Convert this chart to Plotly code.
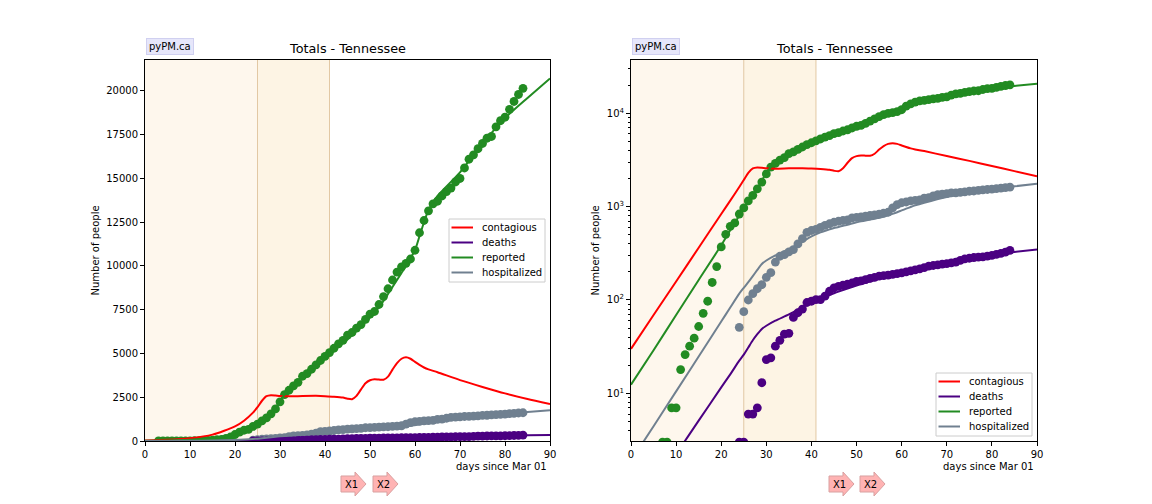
import plotly.graph_objects as go

# ---------------- data ----------------
rep_days = list(range(3, 85))
rep_vals = [1, 1, 1, 2, 3, 3, 7, 7, 18, 26, 32, 39, 52, 72, 97, 154, 228, 370, 505,
            615, 668, 833, 968, 1150, 1320, 1550, 1830, 2240, 2650, 2900, 3150, 3350,
            3700, 3850, 4100, 4350, 4600, 4830, 5050, 5300, 5550, 5750, 6050, 6200,
            6450, 6650, 6950, 7250, 7400, 7800, 8250, 8700, 9200, 9650, 9950, 10150,
            10400, 10900, 11900, 12600, 13150, 13550, 13700, 14000, 14250, 14450,
            14800, 15000, 15600, 16100, 16350, 16700, 17000, 17300, 17400, 17950,
            18300, 18500, 18950, 19400, 19800, 20150]

hosp_days = list(range(24, 85))
hosp_vals = [51, 75, 100, 117, 132, 146, 175, 196, 255, 294, 306, 327, 347, 398, 455,
             530, 555, 570, 600, 630, 655, 680, 697, 710, 720, 757, 765, 775, 790, 805,
             815, 830, 850, 870, 968, 1050, 1100, 1120, 1150, 1165, 1180, 1230, 1250,
             1300, 1345, 1360, 1380, 1400, 1405, 1420, 1440, 1460, 1470, 1490, 1510,
             1525, 1540, 1560, 1580, 1600, 1615]

death_days = list(range(24, 85))
death_vals = [3, 3, 6, 6, 7, 13, 23, 24, 32, 37, 43, 44, 65, 73, 80, 94, 97, 101, 101,
              110, 124, 135, 140, 144, 148, 152, 158, 160, 165, 170, 175, 180, 182, 185,
              188, 192, 195, 200, 205, 210, 215, 222, 230, 234, 238, 242, 245, 250, 255,
              265, 275, 280, 285, 288, 290, 295, 300, 308, 315, 325, 340]

model_days = [0, 5, 10, 15, 20, 22, 24, 25, 26, 27, 28, 29, 30, 32, 35, 38, 40, 42, 44,
              45, 46, 47, 48, 49, 50, 51, 52, 53, 54, 55, 56, 57, 58, 59, 60, 61, 62, 63,
              65, 70, 75, 80, 85, 90]
contagious = [30, 69, 158, 363, 834, 1160, 1620, 1930, 2300, 2560, 2620, 2600, 2570,
              2550, 2570, 2580, 2560, 2530, 2480, 2420, 2390, 2580, 2950, 3300, 3470,
              3530, 3510, 3500, 3680, 4080, 4450, 4700, 4780, 4700, 4520, 4350, 4200,
              4090, 3930, 3480, 3090, 2720, 2400, 2110]
deaths_m = [0.43, 0.98, 2.24, 5.1, 11.6, 16, 22.4, 26, 31, 37, 43, 49, 53, 60, 70, 84,
            93, 105, 113, 118, 123, 128, 133, 138, 143, 148, 153, 158, 164, 170, 175,
            180, 185, 190, 200, 205, 210, 215, 228, 255, 280, 305, 327, 347]
reported_m = [12.4, 29, 69, 164, 385, 560, 800, 950, 1120, 1320, 1560, 1900, 2300, 2950,
              3650, 4300, 4750, 5200, 5600, 5800, 6050, 6300, 6550, 6800, 7050, 7350,
              7650, 8000, 8400, 8800, 9200, 9600, 10000, 10450, 10900, 11700, 12500,
              13200, 14000, 15350, 17000, 18450, 19600, 20720]
hosp_m = [1.9, 4.45, 10.5, 24.8, 58.8, 83, 117, 135, 155, 180, 210, 243, 265, 300, 350,
          420, 480, 530, 570, 590, 605, 625, 640, 660, 680, 695, 710, 725, 740, 760, 780,
          805, 835, 870, 910, 950, 990, 1030, 1100, 1270, 1410, 1530, 1650, 1760]

series_names = ["contagious", "deaths", "reported", "hospitalized"]
x_ticks = [0, 10, 20, 30, 40, 50, 60, 70, 80, 90]
lin_ticks = [0, 2500, 5000, 7500, 10000, 12500, 15000, 17500, 20000]
log_ticks = [10, 100, 1000, 10000]
log_ticktext = ["10<sup>1</sup>", "10<sup>2</sup>", "10<sup>3</sup>", "10<sup>4</sup>"]
periods = [(0, 25), (25, 41)]

RED, PURPLE, GREEN, GRAY = "#ff0000", "#4b0082", "#228b22", "#708090"
COLS = [RED, PURPLE, GREEN, GRAY]
W, H = 1152, 504
FONT = "DejaVu Sans"

# plot area in pixels
PL, PR, PT, PB = 145, 1037, 60, 441
PW, PH = PR - PL, PB - PT


def px(x):
    return (x - PL) / PW


def py(y):
    return (PB - y) / PH


fig = go.Figure()


def add_panel(xa, ya):
    for days, vals, col in [(rep_days, rep_vals, GREEN), (hosp_days, hosp_vals, GRAY),
                            (death_days, death_vals, PURPLE)]:
        fig.add_trace(go.Scatter(x=days, y=vals, mode="markers", xaxis=xa, yaxis=ya,
                                 marker=dict(color=col, size=8.8), showlegend=False,
                                 hoverinfo="skip"))
    for vals, col, name in zip([contagious, deaths_m, reported_m, hosp_m], COLS, series_names):
        fig.add_trace(go.Scatter(x=model_days, y=vals, mode="lines", xaxis=xa, yaxis=ya,
                                 line=dict(color=col, width=2, shape="spline", smoothing=0.6),
                                 name=name, showlegend=False))


add_panel("x", "y")
add_panel("x2", "y2")

dom1 = [px(145), px(550)]
dom2 = [px(631), px(1037)]

axis_common = dict(showline=True, linecolor="black", linewidth=1, mirror=True,
                   ticks="outside", ticklen=4, tickcolor="black", showgrid=False,
                   zeroline=False, automargin=False,
                   tickfont=dict(family=FONT, size=10, color="black"))

fig.update_layout(
    width=W, height=H, margin=dict(l=PL, r=W - PR, t=PT, b=H - PB, autoexpand=False),
    paper_bgcolor="white", plot_bgcolor="white",
    font=dict(family=FONT, size=10, color="black"),
    xaxis=dict(domain=dom1, range=[0, 90], tickvals=x_ticks, anchor="y", **axis_common),
    yaxis=dict(domain=[0, 1], range=[0, 21770], tickvals=lin_ticks,
               ticktext=[str(v) for v in lin_ticks], anchor="x", **axis_common),
    xaxis2=dict(domain=dom2, range=[0, 90], tickvals=x_ticks, anchor="y2", **axis_common),
    yaxis2=dict(domain=[0, 1], type="log", range=[0.49, 4.57], tickvals=log_ticks,
                ticktext=log_ticktext, anchor="x2",
                minor=dict(ticks="outside", ticklen=2, tickcolor="black",
                           tickvals=[m * 10 ** e for e in range(0, 5) for m in range(2, 10)]),
                **axis_common),
    showlegend=False,
)

shapes = []
annotations = []
for xr, yr, dom in [("x", "y", dom1), ("x2", "y2", dom2)]:
    fills = ["rgba(250,225,185,0.25)", "rgba(250,220,170,0.32)"]
    for (a, b), fc in zip(periods, fills):
        shapes.append(dict(type="rect", xref=xr, yref=yr + " domain", x0=a, x1=b, y0=0, y1=1,
                           fillcolor=fc, line=dict(width=0), layer="below"))
    for xv in [25, 41]:
        shapes.append(dict(type="line", xref=xr, yref=yr + " domain", x0=xv, x1=xv, y0=0, y1=1,
                           line=dict(color="#e2c8a4", width=1), layer="below"))
    cx = (dom[0] + dom[1]) / 2
    annotations.append(dict(text="Totals - Tennessee", xref="paper", yref="paper", x=cx,
                            y=py(49), xanchor="center", yanchor="middle", showarrow=False,
                            font=dict(family=FONT, size=12.8)))
    annotations.append(dict(text="pyPM.ca", xref="paper", yref="paper", x=dom[0] + 1 / PW,
                            y=py(47), xanchor="left", yanchor="middle", showarrow=False,
                            font=dict(family=FONT, size=10), bgcolor="#e6e6fa",
                            bordercolor="#d0d0f0", borderwidth=1, borderpad=2))
    annotations.append(dict(text="days since Mar 01", xref="paper", yref="paper",
                            x=dom[1] - 1 / PW, y=py(466), xanchor="right", yanchor="middle",
                            showarrow=False, font=dict(family=FONT, size=10)))
    annotations.append(dict(text="Number of people", xref="paper", yref="paper",
                            x=dom[0] - (50 if xr == "x" else 36) / PW, y=0.5,
                            xanchor="center", yanchor="middle", textangle=-90, showarrow=False,
                            font=dict(family=FONT, size=10)))

# custom matplotlib-like legends (box left/top in pixels)
for bx, by in [(449, 219), (936, 373)]:
    shapes.append(dict(type="rect", xref="paper", yref="paper", x0=px(bx), x1=px(bx + 96),
                       y0=py(by + 63), y1=py(by), fillcolor="rgba(255,255,255,0.85)",
                       line=dict(color="#cccccc", width=1)))
    for i, (name, col) in enumerate(zip(series_names, COLS)):
        yy = by + 8.5 + 15 * i
        shapes.append(dict(type="line", xref="paper", yref="paper", x0=px(bx + 2.5),
                           x1=px(bx + 24), y0=py(yy), y1=py(yy), line=dict(color=col, width=2)))
        annotations.append(dict(text=name, xref="paper", yref="paper", x=px(bx + 31),
                                y=py(yy), xanchor="left", yanchor="middle", showarrow=False,
                                font=dict(family=FONT, size=10)))


def arrow_path(x0):
    pts = [(x0, 476), (x0 + 14, 476), (x0 + 14, 472), (x0 + 25, 484), (x0 + 14, 496),
           (x0 + 14, 492), (x0, 492)]
    return "M " + " L ".join(f"{px(a):.5f},{py(b):.5f}" for a, b in pts) + " Z"


for x0, lab in [(341, "X1"), (373, "X2"), (829, "X1"), (860, "X2")]:
    shapes.append(dict(type="path", xref="paper", yref="paper", path=arrow_path(x0),
                       fillcolor="#ffb3b3", line=dict(color="#d9a0a0", width=1)))
    annotations.append(dict(text=lab, xref="paper", yref="paper", x=px(x0 + 10),
                            y=py(484), xanchor="center", yanchor="middle", showarrow=False,
                            font=dict(family=FONT, size=10)))

fig.update_layout(shapes=shapes, annotations=annotations)
fig.write_html("out.html")
